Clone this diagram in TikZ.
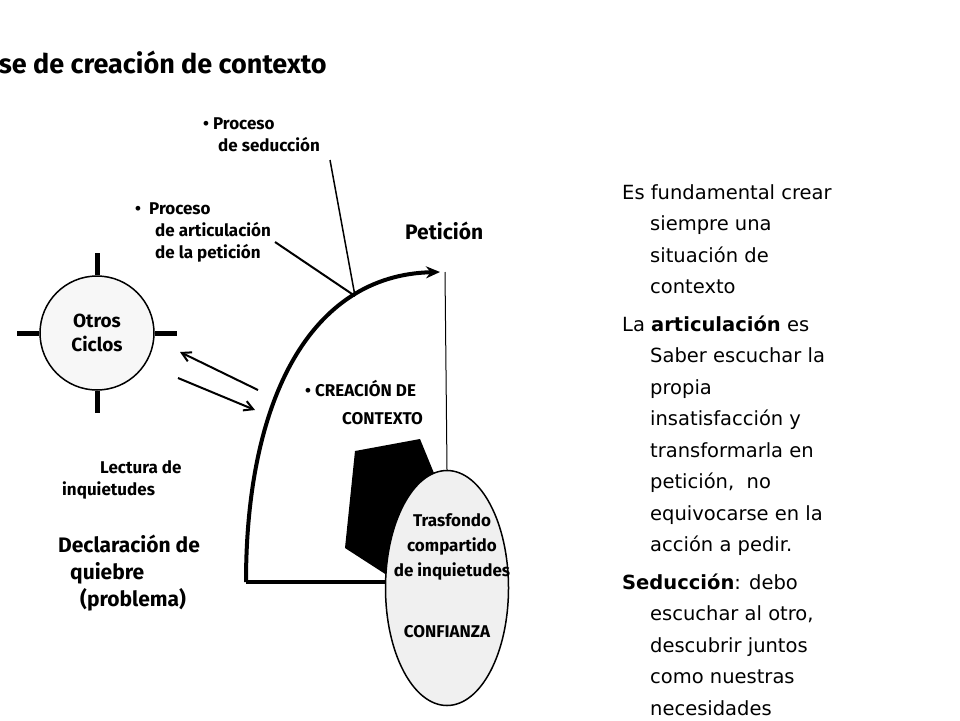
\documentclass[tikz,border=0pt]{standalone}
\usepackage{fontspec}
\setmainfont{DejaVu Sans}
\newfontfamily\dfont{Fira Sans}
\usetikzlibrary{arrows.meta,shapes.geometric}
\begin{document}
\begin{tikzpicture}[x=1pt,y=-1pt,
  lbl/.style={font=\dfont\bfseries\fontsize{17}{22}\selectfont, align=left, anchor=north west, inner sep=0},
  rt/.style={anchor=north west, inner sep=0, font=\fontsize{19.5}{31.5}\selectfont, align=left}]
\clip (0,0) rectangle (960,720);
\fill[white] (0,0) rectangle (960,720);
% title
\node[anchor=west, inner sep=0, font=\dfont\bfseries\fontsize{27}{30}\selectfont] (title) at (-16,62) {ase de creación de contexto};
% otros ciclos
\node[circle, draw, line width=1.5pt, fill=gray!6, minimum size=114pt, font=\dfont\bfseries\fontsize{19}{24}\selectfont, align=center] (oc) at (97,333) {Otros\\Ciclos};
\draw[line width=5pt] (oc.north) -- ++(0,-22);
\draw[line width=5pt] (oc.south) -- ++(0,22);
\draw[line width=5pt] (oc.west) -- ++(-22,0);
\draw[line width=5pt] (oc.east) -- ++(22,0);
% arrows
\coordinate (a1s) at (258,390); \coordinate (a1e) at (180,352);
\coordinate (a2s) at (178,378); \coordinate (a2e) at (255,410);
\draw[line width=2pt,-{Straight Barb[length=9pt,width=10pt]}] (a1s) -- (a1e);
\draw[line width=2pt,-{Straight Barb[length=9pt,width=10pt]}] (a2s) -- (a2e);
% main shape
\coordinate (bl) at (246,582);
\coordinate (tp) at (440,272);
\coordinate (jn) at (355,296);
% fat arrow (partly behind ellipse)
\fill (345,548) -- (355,451) -- (420,439) -- (445,500) -- (410,590) -- cycle;
\node[ellipse, draw, line width=1.5pt, fill=gray!12, minimum width=123pt, minimum height=235pt] (el) at (447,588) {};
\draw[line width=1pt] (445,272) -- (el.north);
\draw[line width=4pt] (bl) -- (el.west |- bl);
\draw[line width=4pt,-{Stealth[length=14pt,width=12pt]}] (bl) .. controls (246,400) and (310,275) .. (tp);
\node[lbl, font=\dfont\bfseries\fontsize{17}{25}\selectfont, align=center, anchor=center] (tf) at (452,547) {Trasfondo\\compartido\\de inquietudes};
\node[lbl, font=\dfont\bfseries\fontsize{17}{20}\selectfont, anchor=center] (cf) at (447,632) {CONFIANZA};
% labels
\node[lbl, font=\dfont\bfseries\fontsize{21}{24}\selectfont] (pet) at (405,222) {Petición};
\node[lbl, font=\dfont\bfseries\fontsize{17}{28}\selectfont, align=left, anchor=north west] (cc) at (305,380) {\textbullet\ CREACIÓN DE\\\hspace*{37pt}CONTEXTO};
\node[lbl] (ps) at (203,118) {\textbullet\ Proceso\\\hspace*{15pt}de seducción};
\node[lbl] (pa) at (135,203) {\textbullet\ \ Proceso\\\hspace*{20pt}de articulación\\\hspace*{20pt}de la petición};
\draw[line width=1.5pt] (jn) -- (330,160);
\draw[line width=2pt] (jn) -- (275,242);
\node[lbl] (li) at (62,460) {\hspace*{38pt}Lectura de\\inquietudes};
\node[lbl, font=\dfont\bfseries\fontsize{21}{27}\selectfont] (dq) at (58,535) {Declaración de\\\hspace*{12pt}quiebre\\\hspace*{22pt}(problema)};
% right text
\node[rt] (txt) at (622,184) {Es fundamental crear\\\hspace*{28pt}siempre una\\\hspace*{28pt}situación de\\\hspace*{28pt}contexto\\[6pt]
La \textbf{articulación} es\\\hspace*{28pt}Saber escuchar la\\\hspace*{28pt}propia\\\hspace*{28pt}insatisfacción y\\\hspace*{28pt}transformarla en\\\hspace*{28pt}petición,\ \ no\\\hspace*{28pt}equivocarse en la\\\hspace*{28pt}acción a pedir.\\[6pt]
\textbf{Seducción}: debo\\\hspace*{28pt}escuchar al otro,\\\hspace*{28pt}descubrir juntos\\\hspace*{28pt}como nuestras\\\hspace*{28pt}necesidades};
\end{tikzpicture}
\end{document}
